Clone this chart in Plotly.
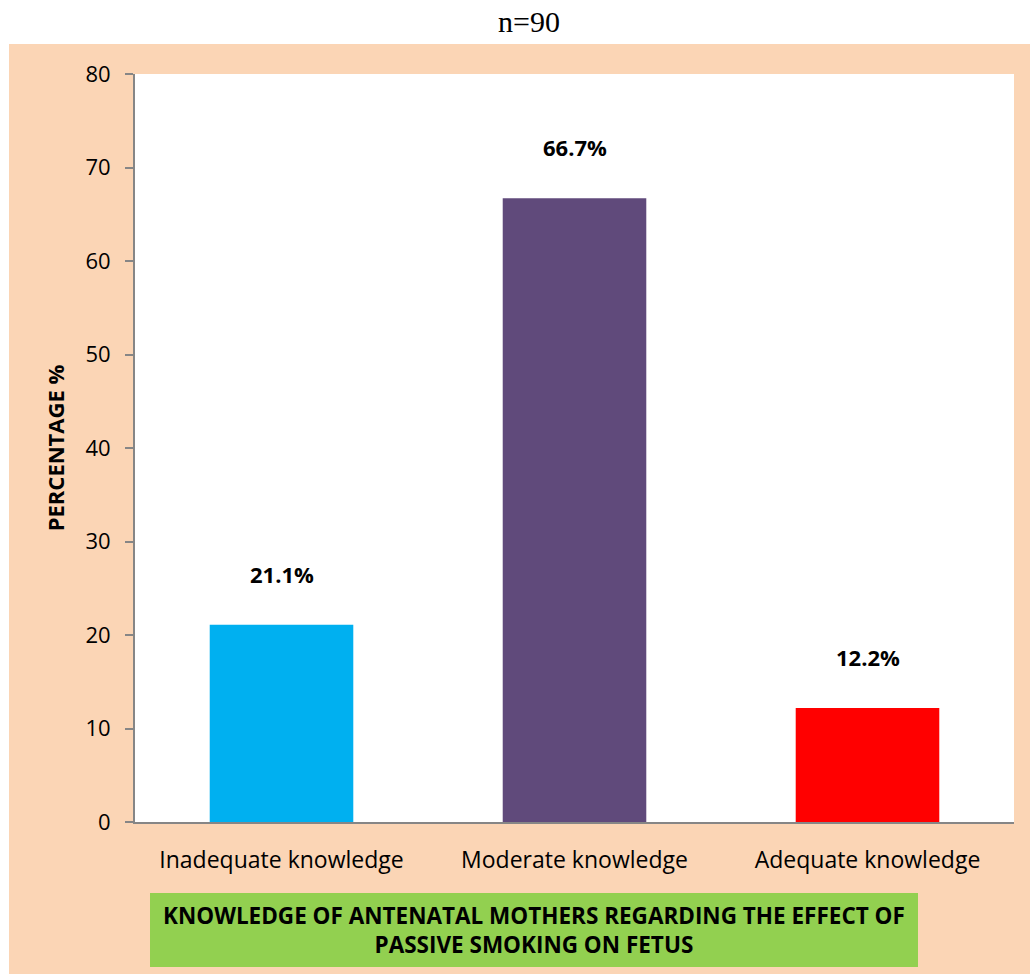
import plotly.graph_objects as go

categories = ["Inadequate knowledge", "Moderate knowledge", "Adequate knowledge"]
percentages = [21.1, 66.7, 12.2]
bar_colors = ["#00B0F0", "#604A7B", "#FF0000"]
label_texts = ["21.1%", "66.7%", "12.2%"]

W, H = 1030, 974
L, R, T, B = 135, 16, 74, 152
pw, ph = W - L - R, H - T - B

def px_x(x):
    return (x - L) / pw

def px_y(y):
    return (H - B - y) / ph

FONT = "Open Sans"

fig = go.Figure()
fig.add_trace(go.Bar(
    x=categories, y=percentages,
    marker=dict(color=bar_colors, line=dict(width=0)),
    width=0.49, hoverinfo="x+y",
))

for c, v, t in zip(categories, percentages, label_texts):
    fig.add_annotation(x=c, y=v, text="<b>%s</b>" % t, showarrow=False,
                       yanchor="middle", yshift=51,
                       font=dict(family=FONT, size=22, color="black"))

shapes = [
    dict(type="rect", xref="paper", yref="paper", layer="below",
         x0=px_x(9), x1=px_x(1032), y0=px_y(976), y1=px_y(44),
         fillcolor="#FBD5B5", line=dict(width=0)),
    dict(type="rect", xref="paper", yref="paper", layer="below",
         x0=0, x1=1, y0=0, y1=1, fillcolor="white", line=dict(width=0)),
    dict(type="rect", xref="paper", yref="paper", layer="below",
         x0=px_x(150), x1=px_x(918), y0=px_y(967), y1=px_y(893),
         fillcolor="#92D050", line=dict(width=0)),
]

fig.add_annotation(xref="paper", yref="paper",
                   x=(px_x(150) + px_x(918)) / 2, y=(px_y(967) + px_y(893)) / 2,
                   text="<b>KNOWLEDGE OF ANTENATAL MOTHERS REGARDING THE EFFECT OF<br>PASSIVE SMOKING ON FETUS</b>",
                   showarrow=False, align="center", xanchor="center", yanchor="middle",
                   font=dict(family=FONT, size=22.5, color="black"))

fig.add_annotation(xref="paper", yref="paper", x=px_x(529), y=px_y(22),
                   text="n=90", showarrow=False, xanchor="center", yanchor="middle",
                   font=dict(family="Liberation Serif", size=30, color="black"))

fig.update_layout(
    width=W, height=H,
    margin=dict(l=L, r=R, t=T, b=B, pad=0),
    paper_bgcolor="white", plot_bgcolor="rgba(0,0,0,0)",
    shapes=shapes, showlegend=False, bargap=0.51,
    font=dict(family=FONT, color="black"),
    xaxis=dict(showline=True, linecolor="#868686", linewidth=2, ticks="",
               tickfont=dict(size=23, family=FONT), showgrid=False, zeroline=False,
               ticklabelstandoff=16),
    yaxis=dict(range=[0, 80], dtick=10, showline=True, linecolor="#868686", linewidth=2,
               ticks="outside", ticklen=8, tickwidth=2, tickcolor="#868686",
               tickfont=dict(size=22, family=FONT), showgrid=False, zeroline=False,
               ticklabelstandoff=10,
               title=dict(text="<b>PERCENTAGE %</b>", font=dict(size=22, family=FONT), standoff=15)),
)

fig.write_html("out.html")
